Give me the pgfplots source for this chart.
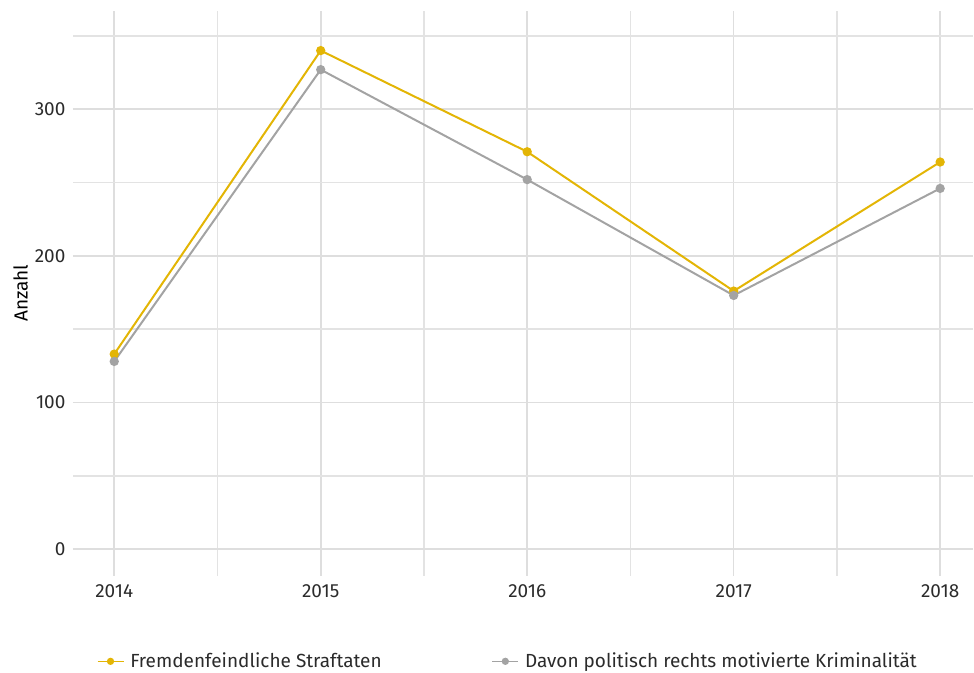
\documentclass[border=0pt]{standalone}
\usepackage{fontspec}
\setmainfont{Fira Sans}
\usepackage{pgfplots}
\pgfplotsset{compat=1.18}
\definecolor{cyel}{HTML}{E3B505}
\definecolor{cgry}{HTML}{A3A3A3}
\definecolor{cgrid}{HTML}{DEDEDE}
\definecolor{ctxt}{HTML}{2B2B2B}
\begin{document}
\fontsize{19}{22}\selectfont
\begin{tikzpicture}
\begin{axis}[
  scale only axis,
  width=901pt, height=565pt,
  xmin=2013.8, xmax=2018.16,
  ymin=-18, ymax=367,
  axis line style={draw=none},
  xtick={2014,2015,2016,2017,2018},
  minor xtick={2014.5,2015.5,2016.5,2017.5},
  ytick={0,100,200,300},
  minor ytick={50,150,250,350},
  xticklabels={2014,2015,2016,2017,2018},
  xmajorgrids, ymajorgrids, xminorgrids, yminorgrids,
  major grid style={cgrid, line width=1.6pt},
  minor grid style={cgrid!85, line width=1.4pt},
  major tick length=0pt, minor tick length=0pt,
  x tick label style={ctxt, font=\fontsize{19}{22}\selectfont},
  y tick label style={ctxt, font=\fontsize{19}{22}\selectfont},
  /pgf/number format/assume math mode=true,
  xticklabel style={yshift=-3pt},
  yticklabel style={xshift=-1pt},
  ylabel={Anzahl},
  ylabel style={ctxt, font=\fontsize{19}{22}\selectfont},
  every axis y label/.style={at={([xshift=-45pt]rel axis cs:0,0.5)}, rotate=90, anchor=south, inner sep=0pt},
  legend columns=2,
  legend style={draw=none, fill=none, inner sep=0pt, at={(rel axis cs:0.483,-0.152)}, anchor=center,
    font=\fontsize{19}{22}\selectfont, text=ctxt,
    /tikz/every even column/.append style={column sep=108pt},
    /tikz/every odd column/.append style={column sep=4pt}},
  legend image code/.code={\draw[#1, line width=1.6pt, mark repeat=2, mark phase=2, mark size=2.8pt] plot coordinates {(0pt,0pt)(13pt,0pt)(26pt,0pt)};},
  legend cell align=left,
  clip=false,
]
\addplot[cyel, line width=2pt, mark=*, mark size=3.6pt, mark options={fill=cyel,draw=cyel}]
 coordinates {(2014,133)(2015,340)(2016,271)(2017,176)(2018,264)};
\addlegendentry{Fremdenfeindliche Straftaten}
\addplot[cgry, line width=2pt, mark=*, mark size=3.6pt, mark options={fill=cgry,draw=cgry}]
 coordinates {(2014,128)(2015,327)(2016,252)(2017,173)(2018,246)};
\addlegendentry{Davon politisch rechts motivierte Kriminalität}
\path (rel axis cs:0,0) ++(-73pt,-97pt) coordinate (bl);
\path (rel axis cs:1,1) ++(0pt,11pt) coordinate (tr);
\end{axis}
\useasboundingbox (bl) rectangle (tr);
\end{tikzpicture}
\end{document}
